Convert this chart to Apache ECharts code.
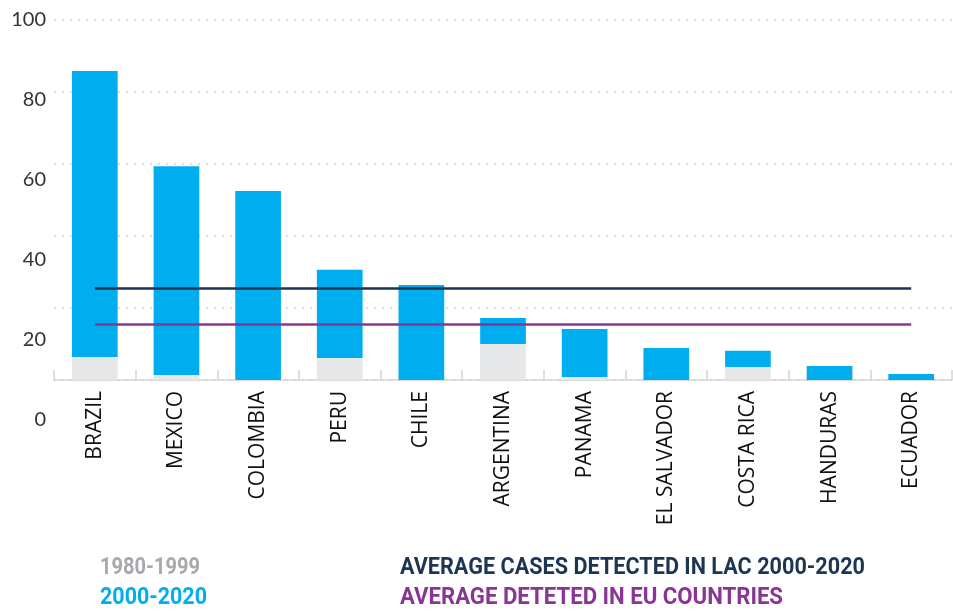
<!DOCTYPE html>
<html>
<head>
<meta charset="utf-8">
<script src="https://cdn.jsdelivr.net/npm/echarts@6/dist/echarts.min.js"></script>
<style>
  html, body { margin: 0; padding: 0; background: #fff; }
  #main { width: 953px; height: 613px; }
</style>
</head>
<body>
<div id="main"></div>
<script>
var countries = ['BRAZIL', 'MEXICO', 'COLOMBIA', 'PERU', 'CHILE', 'ARGENTINA', 'PANAMA', 'EL SALVADOR', 'COSTA RICA', 'HANDURAS', 'ECUADOR'];
var cases1980 = [6.4, 1.4, 0, 6.1, 0, 10, 0.8, 0, 3.6, 0, 0];
var cases2000 = [79.4, 58, 52.5, 24.5, 26.4, 7.2, 13.4, 8.9, 4.5, 3.9, 1.7];
var avgLac = 25.6;
var avgEu = 15.6;
var yTicks = [0, 20, 40, 60, 80, 100];

var navy = '#1b3553';
var purple = '#8a3595';
var blue = '#00aeef';
var grey = '#e6e7e8';
var legendFont = 'bold 24px Roboto';

// squeeze a bold label into the width it takes in the original (condensed face)
var ctx = document.createElement('canvas').getContext('2d');
ctx.font = legendFont;
function squeezed(text, color, x, y, width) {
    return {
        type: 'text',
        x: x,
        y: y,
        scaleX: width / ctx.measureText(text).width,
        style: { text: text, fill: color, font: legendFont, textVerticalAlign: 'middle' }
    };
}

function avgLine(value, color) {
    return {
        silent: true,
        symbol: 'none',
        label: { show: false },
        lineStyle: { color: color, width: 2.5, type: 'solid' },
        data: [[
            { coord: [countries[0], value] },
            { coord: [countries[countries.length - 1], value] }
        ]]
    };
}

var option = {
    animation: false,
    grid: [
        { left: 54, right: 1, top: 20, bottom: 233 },
        // label-only grid, the y labels in the original sit on a wider scale
        { left: 54, right: 1, top: 20, bottom: 193 }
    ],
    xAxis: [{
        type: 'category',
        data: countries,
        gridIndex: 0,
        axisLine: { lineStyle: { color: '#d3d3d3', width: 1.5 } },
        axisTick: { show: true, inside: true, length: 10, lineStyle: { color: '#d3d3d3', width: 1.5 } },
        axisLabel: {
            rotate: 90,
            margin: 11,
            color: '#111',
            fontSize: 21,
            fontFamily: 'Open Sans'
        }
    }, {
        type: 'category',
        data: countries,
        gridIndex: 1,
        show: false
    }],
    yAxis: [{
        type: 'value',
        gridIndex: 0,
        min: 0,
        max: 100,
        interval: 20,
        axisLine: { show: false },
        axisTick: { show: false },
        axisLabel: { show: false },
        splitLine: { lineStyle: { color: '#dcdcdc', width: 2, type: [2, 6] } }
    }, {
        type: 'value',
        gridIndex: 1,
        min: yTicks[0],
        max: yTicks[yTicks.length - 1],
        interval: 20,
        axisLine: { show: false },
        axisTick: { show: false },
        splitLine: { show: false },
        axisLabel: {
            margin: 8,
            color: '#333',
            fontSize: 20,
            fontFamily: 'Lato'
        }
    }],
    graphic: [
        squeezed('1980-1999', '#a7a9ac', 100, 568, 100),
        squeezed('2000-2020', blue, 100, 598, 107),
        squeezed('AVERAGE CASES DETECTED IN LAC 2000-2020', navy, 400, 568, 465),
        squeezed('AVERAGE DETETED IN EU COUNTRIES', purple, 400, 598, 383)
    ],
    series: [{
        name: '1980-1999',
        type: 'bar',
        stack: 'cases',
        barWidth: '56%',
        itemStyle: { color: grey },
        data: cases1980
    }, {
        name: '2000-2020',
        type: 'bar',
        stack: 'cases',
        barWidth: '56%',
        itemStyle: { color: blue },
        data: cases2000
    }, {
        name: 'AVERAGE CASES DETECTED IN LAC 2000-2020',
        type: 'line',
        data: [],
        itemStyle: { color: navy },
        markLine: avgLine(avgLac, navy)
    }, {
        name: 'AVERAGE DETETED IN EU COUNTRIES',
        type: 'line',
        data: [],
        itemStyle: { color: purple },
        markLine: avgLine(avgEu, purple)
    }]
};

var myChart = echarts.init(document.getElementById('main'));
myChart.setOption(option);
</script>
</body>
</html>
